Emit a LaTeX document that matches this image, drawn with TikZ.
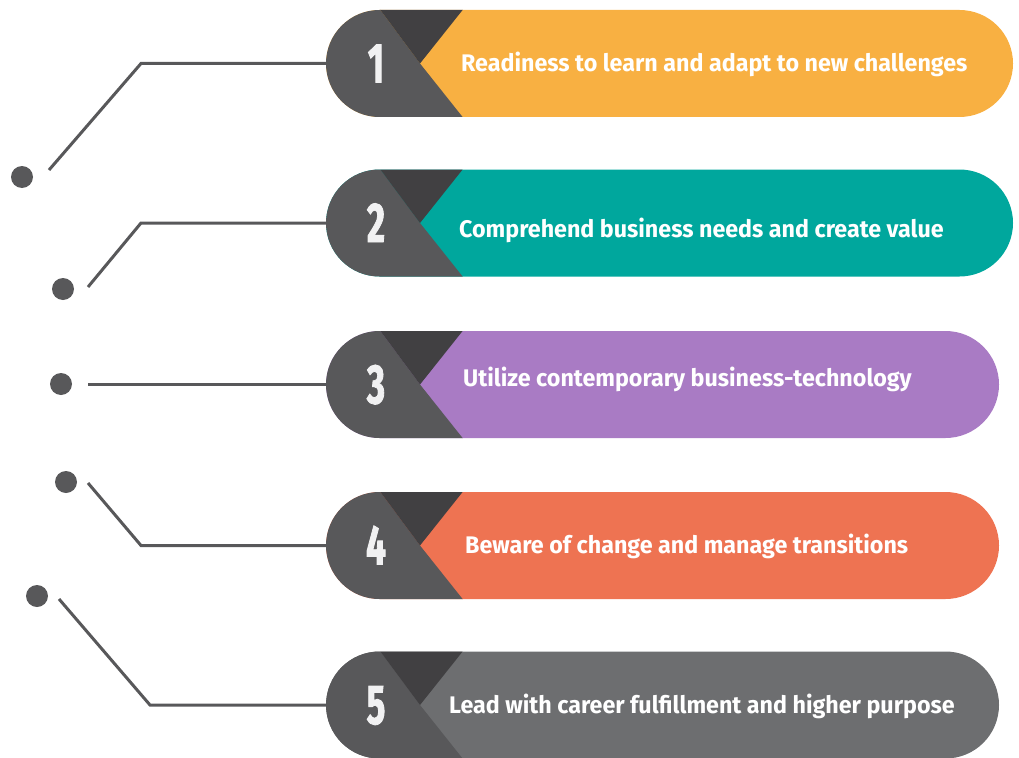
\documentclass[tikz,border=0pt]{standalone}
\usepackage{fontspec}
\setmainfont{Fira Sans}
\newfontfamily\numfont{Fira Sans}[FakeStretch=0.62,FakeBold=1.5]
\newfontfamily\itemfont{Fira Sans}[FakeStretch=0.97]
\definecolor{colA}{HTML}{F8B042}
\definecolor{colB}{HTML}{00A79D}
\definecolor{colC}{HTML}{A97BC4}
\definecolor{colD}{HTML}{EE7352}
\definecolor{colE}{HTML}{6D6E70}
\definecolor{leftgray}{HTML}{58585A}
\definecolor{tipgray}{HTML}{414042}
\definecolor{numwhite}{HTML}{F1F1F2}

\begin{document}
\begin{tikzpicture}[x=1pt,y=-1pt,
    wire/.style={line width=3pt, draw=leftgray},
    dotnode/.style={circle, fill=leftgray, minimum size=22pt, inner sep=0pt},
    numtext/.style={text=numwhite, anchor=base, inner sep=0pt,
      font=\numfont\bfseries\fontsize{56}{56}\selectfont},
    itemtext/.style={text=white, anchor=base west, inner sep=0pt,
      font=\itemfont\bfseries\fontsize{24}{24}\selectfont}]
  \useasboundingbox (0,0) rectangle (1019,757);
  % pills
  \foreach \i/\yc/\xr/\col/\tx/\ty/\txt in {
      1/63.5/1013/colA/461/72/{Readiness to learn and adapt to new challenges},
      2/223/1013/colB/459/237/{Comprehend business needs and create value},
      3/384.5/999/colC/463/386/{Utilize contemporary business-technology},
      4/545.5/999/colD/465/553/{Beware of change and manage transitions},
      5/705/999/colE/449/713/{Lead with career fulfillment and higher purpose}}{
    \fill[\col, rounded corners=53.5pt] (326,\yc-53.5) rectangle (\xr,\yc+53.5);
    \begin{scope}
      \clip[rounded corners=53.5pt] (326,\yc-53.5) rectangle (\xr,\yc+53.5);
      \fill[leftgray] (300,\yc-54) -- (380,\yc-54) -- (420,\yc) -- (463,\yc+54) -- (300,\yc+54) -- cycle;
      \fill[tipgray] (380,\yc-54) -- (463,\yc-54) -- (420,\yc) -- cycle;
    \end{scope}
    \node[numtext] (num\i) at (376,\yc+19) {\i};
    \node[itemtext] (item\i) at (\tx,\ty) {\txt};
    \coordinate (pill\i) at (326,\yc);
  }
  % dots
  \node[dotnode] (dot1) at (22,177) {};
  \node[dotnode] (dot2) at (63,289) {};
  \node[dotnode] (dot3) at (61,384) {};
  \node[dotnode] (dot4) at (66,482) {};
  \node[dotnode] (dot5) at (37,596) {};
  % bends and loose ends
  \coordinate (bend1) at (141,63.5);
  \coordinate (bend2) at (141,223);
  \coordinate (bend4) at (141,545.5);
  \coordinate (bend5) at (150,705);
  \coordinate (end1) at (49,170);
  \coordinate (end2) at (88,287);
  \coordinate (end3) at (88,384.5);
  \coordinate (end4) at (88,483);
  \coordinate (end5) at (59,599);
  % wires
  \draw[wire] (pill1) -- (bend1) -- (end1);
  \draw[wire] (pill2) -- (bend2) -- (end2);
  \draw[wire] (pill3) -- (end3);
  \draw[wire] (pill4) -- (bend4) -- (end4);
  \draw[wire] (pill5) -- (bend5) -- (end5);
\end{tikzpicture}
\end{document}
